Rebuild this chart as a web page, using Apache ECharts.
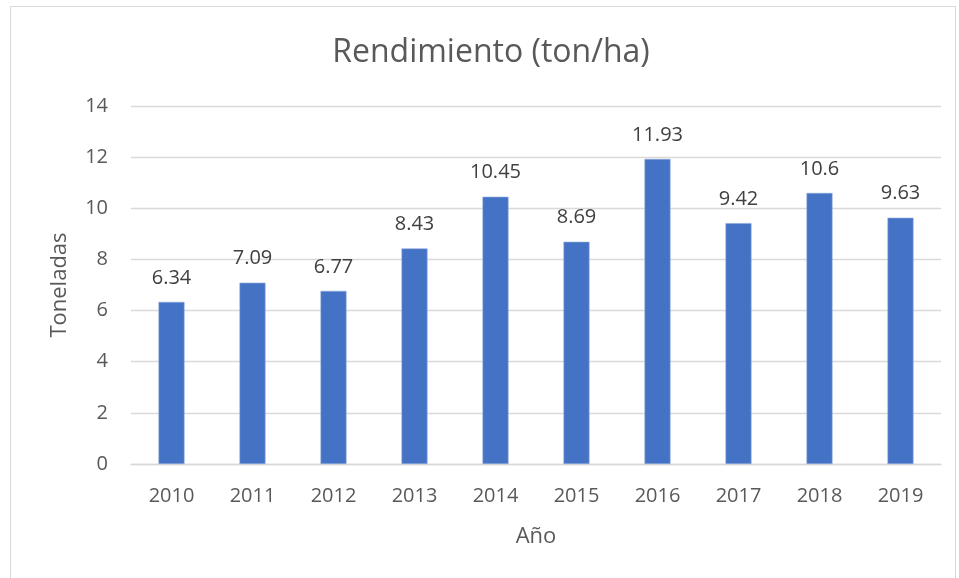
<!DOCTYPE html>
<html><head><meta charset="utf-8">
<script src="https://cdn.jsdelivr.net/npm/echarts@6/dist/echarts.min.js"></script>
<style>html,body{margin:0;padding:0;background:#fff}#c{width:959px;height:578px;position:relative}
#frame{position:absolute;left:10px;top:6px;width:946px;height:580px;border:1px solid #d9d9d9;box-sizing:border-box;pointer-events:none}</style>
</head><body><div id="c"></div><div id="frame"></div>
<script>
const categories = ['2010','2011','2012','2013','2014','2015','2016','2017','2018','2019'];
const values = [6.34, 7.09, 6.77, 8.43, 10.45, 8.69, 11.93, 9.42, 10.6, 9.63];
const labels = ['6.34','7.09','6.77','8.43','10.45','8.69','11.93','9.42','10.6','9.63'];
const yTicks = [0, 2, 4, 6, 8, 10, 12, 14];
const F = '"Open Sans", sans-serif';
const chart = echarts.init(document.getElementById('c'), null, {renderer:'canvas'});
chart.setOption({
  animation:false,
  title:{text:'Rendimiento (ton/ha)', top:32, left:486, textAlign:'center',
    textStyle:{fontFamily:F, fontSize:32, fontWeight:'normal', color:'#595959'}},
  grid:{left:131, right:18, top:106, bottom:114, containLabel:false},
  xAxis:{type:'category', data:categories, name:'Año', nameLocation:'middle', nameGap:62,
    nameTextStyle:{fontFamily:F, fontSize:22, color:'#595959'},
    axisLine:{lineStyle:{color:'#d9d9d9', width:1.3}}, axisTick:{show:false},
    axisLabel:{fontFamily:F, fontSize:20, color:'#595959', margin:22}},
  yAxis:{type:'value', min:yTicks[0], max:yTicks[yTicks.length-1], interval:2,
    name:'Toneladas', nameLocation:'middle', nameGap:60, nameRotate:90,
    nameTextStyle:{fontFamily:F, fontSize:22, color:'#595959'},
    axisLine:{show:false}, axisTick:{show:false},
    splitLine:{lineStyle:{color:'#d9d9d9', width:1.3}},
    axisLabel:{fontFamily:F, fontSize:20, color:'#595959', margin:23}},
  series:[{type:'bar', data:values, barWidth:26,
    itemStyle:{color:'#4472C4', borderColor:'#8eaadb', borderWidth:0.6},
    label:{show:true, position:'top', distance:14, fontFamily:F, fontSize:20, color:'#404040',
      formatter:p=>labels[p.dataIndex]}}]
});
</script></body></html>
